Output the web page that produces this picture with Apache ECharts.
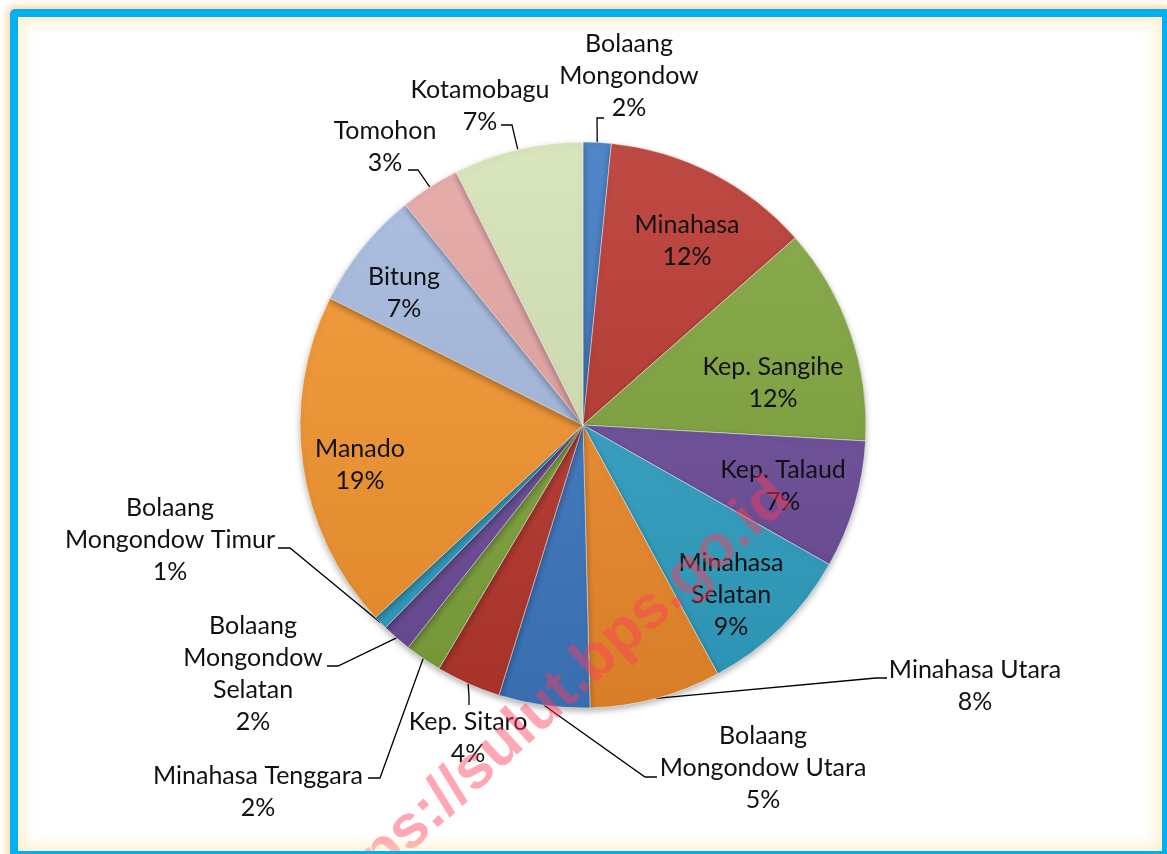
<!DOCTYPE html>
<html>
<head>
<meta charset="utf-8">
<script src="https://cdn.jsdelivr.net/npm/echarts@6/dist/echarts.min.js"></script>
<style>
  html, body { margin: 0; padding: 0; background: #fff; }
  #chart { position: absolute; left: 0; top: 0; width: 1167px; height: 854px; }
  #frame {
    position: absolute; left: 10px; top: 9px; width: 1160px; height: 850px;
    box-sizing: border-box; border: 8px solid #00b0f0; border-radius: 5px;
    box-shadow: 0 0 7px 3px rgba(255, 196, 130, 0.75), inset 0 0 14px 5px rgba(255, 228, 160, 0.55);
    pointer-events: none;
  }
</style>
</head>
<body>
<div id="chart"></div>
<div id="frame"></div>
<script>
// wilayah, searah jarum jam mulai dari jam 12
const regions = ['Bolaang Mongondow', 'Minahasa', 'Kep. Sangihe', 'Kep. Talaud', 'Minahasa Selatan',
  'Minahasa Utara', 'Bolaang Mongondow Utara', 'Kep. Sitaro', 'Minahasa Tenggara',
  'Bolaang Mongondow Selatan', 'Bolaang Mongondow Timur', 'Manado', 'Bitung', 'Tomohon', 'Kotamobagu']
// teks label (dengan pemotongan baris seperti di gambar)
const labelNames = ['Bolaang\nMongondow', 'Minahasa', 'Kep. Sangihe', 'Kep. Talaud', 'Minahasa\nSelatan',
  'Minahasa Utara', 'Bolaang\nMongondow Utara', 'Kep. Sitaro', 'Minahasa Tenggara',
  'Bolaang\nMongondow\nSelatan', 'Bolaang\nMongondow Timur', 'Manado', 'Bitung', 'Tomohon', 'Kotamobagu']
// persentase (dibaca dari sudut irisan)
const shares = [1.6, 11.9, 12.4, 7.3, 8.9, 7.5, 5.2, 3.7, 2.1, 1.7, 0.8, 19.3, 6.8, 3.4, 7.4]
const colors = ['#3e79c4', '#b8372f', '#80a53c', '#6d4d9a', '#31a2c6', '#f08c2c',
  '#3e79c4', '#b8372f', '#80a53c', '#6d4d9a', '#31a2c6', '#f5952f', '#a6badf', '#e5a5a3', '#d5e3b6']

const cx = 583, cy = 425, R = 283

// label di dalam irisan: [x, y] pusat teks
const insideSpots = {
  1: [687, 241],
  2: [773, 383],
  3: [783, 486],
  4: [731, 595],
  11: [360, 465],
  12: [404, 293]
}
// label luar: [x teks, y teks, titik siku x, y, ujung garis x, y]
const outerSpots = {
  0: [629, 76, 597, 118, 604, 118],
  5: [975, 686, 876, 678, 887, 678],
  6: [763, 768, 645, 777, 657, 777],
  7: [468, 738, 469, 697, 469, 705],
  8: [258, 792, 380, 778, 368, 778],
  9: [253, 674, 338, 666, 327, 666],
  10: [170, 540, 290, 548, 278, 548],
  13: [385, 147, 418, 170, 408, 170],
  14: [480, 106, 512, 125, 501, 125]
}

function shade(hex, f) {
  const n = parseInt(hex.slice(1), 16)
  let r = n >> 16, g = (n >> 8) & 255, b = n & 255
  const m = v => Math.max(0, Math.min(255, Math.round(f > 0 ? v + (255 - v) * f : v * (1 + f))))
  return 'rgb(' + m(r) + ',' + m(g) + ',' + m(b) + ')'
}

const seriesData = regions.map((name, i) => ({
  name: name,
  value: shares[i],
  itemStyle: {
    color: {
      type: 'linear', x: 0, y: cy - R, x2: 0, y2: cy + R, global: true,
      colorStops: [
        { offset: 0, color: shade(colors[i], 0.1) },
        { offset: 1, color: shade(colors[i], -0.1) }
      ]
    }
  },
  label: { position: insideSpots[i] ? 'inside' : 'outside' },
  labelLine: { show: !insideSpots[i] }
}))

var myChart = echarts.init(document.getElementById('chart'))
myChart.setOption({
  animation: false,
  backgroundColor: 'transparent',
  series: [
    {
      type: 'pie',
      center: [cx, cy],
      radius: R,
      startAngle: 90,
      clockwise: true,
      avoidLabelOverlap: false,
      itemStyle: {
        borderColor: 'rgba(255,255,255,0.45)',
        borderWidth: 1,
        shadowBlur: 6,
        shadowOffsetY: 3,
        shadowColor: 'rgba(0,0,0,0.3)'
      },
      label: {
        fontFamily: 'Lato',
        fontSize: 25,
        lineHeight: 32,
        color: '#111',
        align: 'center',
        formatter: p => labelNames[p.dataIndex] + '\n' + Math.round(p.value) + '%'
      },
      labelLine: {
        lineStyle: { color: '#000', width: 1.3 }
      },
      labelLayout: function (p) {
        const i = p.dataIndex
        if (insideSpots[i]) {
          const s = insideSpots[i]
          return { x: s[0], y: s[1], align: 'center', verticalAlign: 'middle' }
        }
        const s = outerSpots[i]
        const edge = p.labelLinePoints[0]
        return {
          x: s[0], y: s[1], align: 'center', verticalAlign: 'middle',
          labelLinePoints: [edge, [s[2], s[3]], [s[4], s[5]]]
        }
      },
      data: seriesData
    }
  ],
  graphic: [
    {
      type: 'text',
      x: 803, y: 512,
      rotation: 0.74,
      z: 100,
      style: {
        text: 'https://sulut.bps.go.id',
        font: 'bold 61px "Liberation Sans", Arial, sans-serif',
        fill: 'rgba(255,60,90,0.45)',
        textAlign: 'right',
        textVerticalAlign: 'bottom'
      }
    }
  ]
})
</script>
</body>
</html>
